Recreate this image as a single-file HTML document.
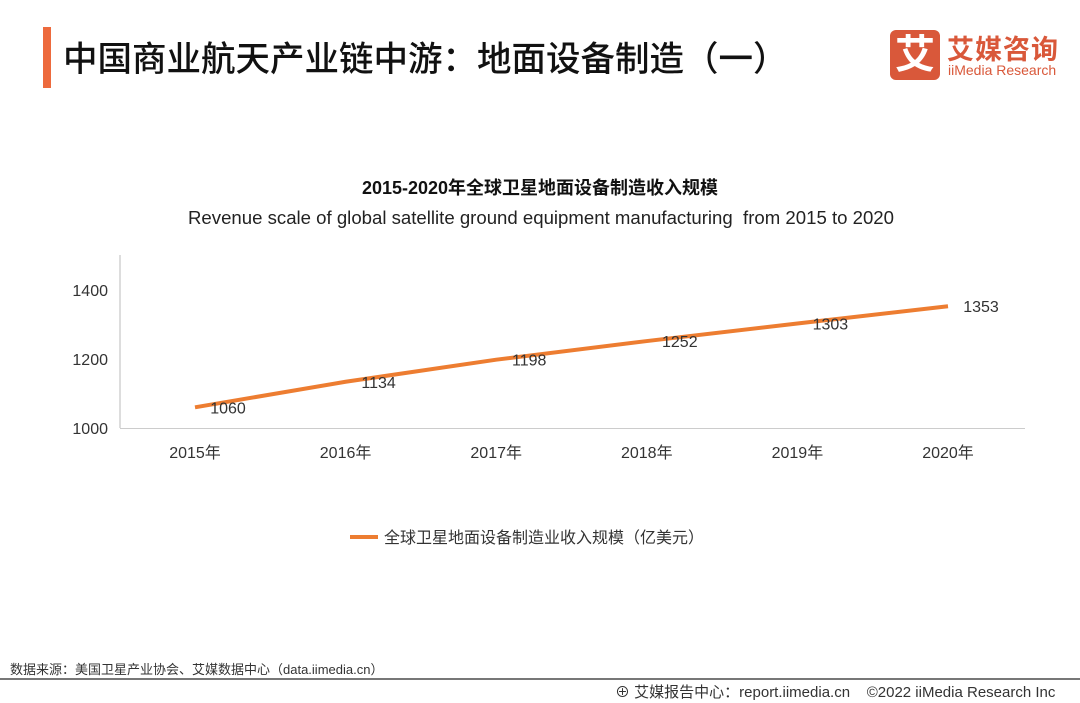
<!DOCTYPE html>
<html><head><meta charset="utf-8"><style>
body{margin:0;width:1080px;height:703px;background:#fff;font-family:"Liberation Sans","Noto Sans CJK SC",sans-serif;position:relative;overflow:hidden}
.abs{position:absolute;white-space:nowrap}
</style></head><body>
<div class="abs" style="left:43px;top:27px;width:8px;height:61px;background:#ED6A3D"></div>
<div class="abs" style="left:63px;top:31px;font-size:34.5px;color:#111;font-weight:500">中国商业航天产业链中游：地面设备制造（一）</div>
<div class="abs" style="left:890px;top:30px;width:50px;height:50px;background:#D9583A;border-radius:6px;color:#fff;font-size:40px;text-align:center;line-height:50px;font-weight:bold">艾</div>
<div class="abs" style="left:947px;top:28px;font-size:27px;color:#D9583A;font-weight:bold;letter-spacing:1px">艾媒咨询</div>
<div class="abs" style="left:948px;top:62px;font-size:14px;color:#D9583A">iiMedia Research</div>
<div class="abs" style="left:0;width:1080px;text-align:center;top:174px;font-size:18px;font-weight:bold;color:#111">2015-2020年全球卫星地面设备制造收入规模</div>
<div class="abs" style="left:188px;top:207px;font-size:18.6px;color:#222">Revenue scale of global satellite ground equipment manufacturing&nbsp; from 2015 to 2020</div>
<svg id="chart" class="abs" style="left:0;top:0" width="1080" height="703"></svg>
<div class="abs" style="left:10px;top:659px;font-size:13px;color:#333">数据来源：美国卫星产业协会、艾媒数据中心（data.iimedia.cn）</div>
<div class="abs" style="left:0;top:678px;width:1080px;height:2px;background:#777"></div>
<div class="abs" style="left:615px;top:681px;font-size:15px;color:#333">⊕ 艾媒报告中心：report.iimedia.cn&nbsp;&nbsp;&nbsp;&nbsp;©2022 iiMedia Research Inc</div>
<script>
const years=["2015年","2016年","2017年","2018年","2019年","2020年"];
const values=[1060,1134,1198,1252,1303,1353];
const yTicks=[1000,1200,1400];
const NS="http://www.w3.org/2000/svg";
const svg=document.getElementById('chart');
const xS=i=>195+i*150.6;
const yS=v=>428-(v-1000)*0.345;
function mk(t,a){const e=document.createElementNS(NS,t);for(const k in a)e.setAttribute(k,a[k]);svg.appendChild(e);return e;}
let ax=mk('line',{x1:120,y1:255,x2:120,y2:428,stroke:'#bbb','stroke-width':1});


let bx=mk('line',{x1:120,y1:428.5,x2:1025,y2:428.5,stroke:'#ccc','stroke-width':1});


yTicks.forEach(v=>{const t=mk('text',{x:108,y:yS(v)+6,'text-anchor':'end','font-size':16,fill:'#333'});t.textContent=v;

});
years.forEach((y,i)=>{const t=mk('text',{x:xS(i),y:458,'text-anchor':'middle','font-size':16,fill:'#333'});t.textContent=y;

});
const pl=mk('polyline',{points:values.map((v,i)=>xS(i)+','+yS(v)).join(' '),fill:'none',stroke:'#ED7D31','stroke-width':4});


values.forEach((v,i)=>{const t=mk('text',{x:xS(i)+33,y:yS(v)+6,'text-anchor':'middle','font-size':16,fill:'#333'});t.textContent=v;

});
const ll=mk('line',{x1:350,y1:537,x2:378,y2:537,stroke:'#ED7D31','stroke-width':4});


const lt=mk('text',{x:384,y:543,'font-size':16,fill:'#333'});lt.textContent='全球卫星地面设备制造业收入规模（亿美元）';


</script>
</body></html>
